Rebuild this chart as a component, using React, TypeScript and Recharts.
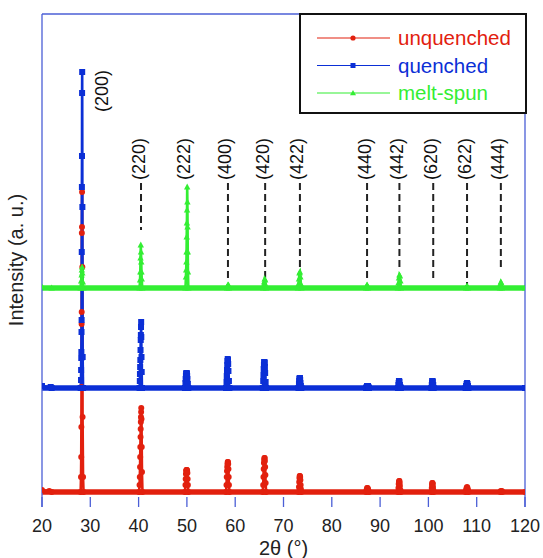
import React from 'react'
import { LineChart, Line, XAxis, YAxis, ReferenceLine, ReferenceDot } from "recharts";

// 2θ ticks
const TICKS = [20, 30, 40, 50, 60, 70, 80, 90, 100, 110, 120];

// reflections (hkl), their 2θ, and where the dashed guide stops (a.u.)
const HKL = ["(200)", "(220)", "(222)", "(400)", "(420)", "(422)", "(440)", "(442)", "(620)", "(622)", "(444)"];
const PEAK_POS = [28.3, 40.5, 50.0, 58.5, 66.2, 73.4, 87.3, 94.0, 101.0, 108.0, 115.0];
const DASH_END = [null, 277, null, 225, 228, 240, 225, 237, 227, 222, 237];
const DASH_TOP = 324;
const LABEL_Y = 327;

// stacked offsets of the three patterns (a.u.)
const BASELINES = [15, 119, 219];

// unquenched (red)
const unquenched: [number, number][] = [
  [20, 17], [21.5, 16], [22, 15], [28.0, 15], [28.08, 30], [28.12, 50], [28.15, 80], [28.18, 120],
  [28.2, 183], [28.22, 195], [28.25, 274], [28.28, 280], [28.3, 315], [28.35, 240], [28.4, 90],
  [28.5, 30], [28.6, 15],
  [40.1, 15], [40.2, 22], [40.25, 30], [40.3, 40], [40.33, 50], [40.36, 60], [40.4, 70], [40.43, 78],
  [40.46, 85], [40.49, 90], [40.52, 95], [40.55, 99], [40.6, 88], [40.65, 60], [40.7, 35], [40.8, 15],
  [49.6, 15], [49.7, 22], [49.75, 28], [49.8, 33], [49.85, 36], [49.9, 37], [49.95, 37], [50.0, 37],
  [50.05, 36], [50.1, 34], [50.15, 28], [50.2, 22], [50.3, 15],
  [58.1, 15], [58.2, 22], [58.25, 30], [58.3, 36], [58.35, 40], [58.4, 43], [58.45, 45], [58.5, 45],
  [58.55, 43], [58.6, 38], [58.65, 30], [58.7, 22], [58.8, 15],
  [65.7, 15], [65.8, 22], [65.85, 30], [65.9, 38], [65.95, 44], [66.0, 47], [66.05, 49], [66.1, 49],
  [66.15, 46], [66.2, 40], [66.25, 32], [66.3, 24], [66.4, 15],
  [73.1, 15], [73.2, 20], [73.25, 25], [73.3, 29], [73.35, 31], [73.4, 31], [73.45, 30], [73.5, 27],
  [73.55, 22], [73.6, 18], [73.7, 15],
  [87.1, 15], [87.2, 17], [87.3, 19], [87.4, 19], [87.5, 18], [87.6, 16], [87.7, 15],
  [93.7, 15], [93.8, 19], [93.85, 23], [93.9, 25], [93.95, 26], [94.0, 26], [94.05, 24], [94.1, 21],
  [94.2, 17], [94.3, 15],
  [100.6, 15], [100.7, 19], [100.75, 22], [100.8, 24], [100.85, 24], [100.9, 23], [100.95, 20],
  [101.0, 17], [101.1, 15],
  [107.7, 15], [107.8, 17], [107.9, 19], [108.0, 20], [108.1, 19], [108.2, 17], [108.3, 15],
  [114.9, 15], [115.0, 16], [115.2, 16], [115.3, 15], [120, 15],
];

// quenched (blue)
const quenched: [number, number][] = [
  [20, 121], [21.8, 120], [22, 119], [28.0, 119], [28.08, 127], [28.1, 137], [28.13, 149], [28.15, 155],
  [28.18, 175], [28.2, 187], [28.23, 255], [28.26, 320], [28.28, 351], [28.3, 414], [28.32, 435],
  [28.36, 300], [28.42, 150], [28.5, 119],
  [40.2, 119], [40.25, 126], [40.28, 133], [40.32, 140], [40.36, 147], [40.4, 157], [40.44, 167],
  [40.47, 172], [40.5, 180], [40.53, 185], [40.56, 170], [40.6, 150], [40.64, 135], [40.7, 119],
  [49.6, 119], [49.7, 124], [49.75, 128], [49.8, 131], [49.85, 133], [49.9, 134], [49.95, 134],
  [50.0, 133], [50.05, 131], [50.1, 128], [50.2, 123], [50.3, 119],
  [58.1, 119], [58.2, 125], [58.25, 131], [58.3, 137], [58.35, 142], [58.4, 146], [58.45, 148],
  [58.5, 147], [58.55, 143], [58.6, 136], [58.7, 126], [58.8, 119],
  [65.7, 119], [65.8, 126], [65.85, 132], [65.9, 138], [65.95, 142], [66.0, 145], [66.05, 145],
  [66.1, 144], [66.15, 140], [66.2, 134], [66.3, 125], [66.4, 119],
  [73.1, 119], [73.2, 123], [73.25, 126], [73.3, 128], [73.35, 129], [73.4, 129], [73.45, 127],
  [73.5, 124], [73.6, 121], [73.7, 119],
  [87.1, 119], [87.2, 120], [87.3, 121], [87.4, 121], [87.5, 121], [87.6, 120], [87.7, 119],
  [93.7, 119], [93.8, 122], [93.85, 124], [93.9, 126], [93.95, 126], [94.0, 125], [94.1, 122],
  [94.2, 120], [94.3, 119],
  [100.6, 119], [100.7, 122], [100.75, 124], [100.8, 126], [100.85, 126], [100.9, 125],
  [101.0, 122], [101.1, 119],
  [107.7, 119], [107.8, 121], [107.9, 123], [108.0, 124], [108.1, 123], [108.2, 121], [108.3, 119],
  [120, 119],
];

// melt-spun (green)
const meltSpun: [number, number][] = [
  [20, 220], [22, 219], [28.0, 219], [28.1, 226], [28.2, 232], [28.25, 237], [28.3, 240], [28.35, 234],
  [28.45, 225], [28.55, 219],
  [40.2, 219], [40.3, 227], [40.35, 235], [40.4, 249], [40.45, 262], [40.5, 255], [40.55, 245],
  [40.6, 235], [40.65, 228], [40.75, 219],
  [49.7, 219], [49.8, 230], [49.85, 237], [49.9, 245], [49.93, 255], [49.96, 270], [50.0, 284],
  [50.03, 297], [50.06, 320], [50.1, 305], [50.14, 280], [50.18, 255], [50.22, 235], [50.3, 219],
  [58.3, 219], [58.4, 221], [58.5, 222], [58.6, 222], [58.7, 219],
  [65.8, 219], [65.9, 222], [66.0, 225], [66.1, 228], [66.2, 227], [66.3, 222], [66.4, 219],
  [73.0, 219], [73.1, 223], [73.2, 228], [73.3, 234], [73.4, 235], [73.5, 230], [73.6, 223], [73.7, 219],
  [87.1, 219], [87.2, 221], [87.3, 222], [87.4, 221], [87.5, 219],
  [93.7, 219], [93.8, 224], [93.9, 229], [94.0, 232], [94.1, 231], [94.2, 226], [94.3, 219],
  [107.8, 219], [107.9, 220], [108.0, 221], [108.1, 220], [108.2, 219],
  [114.8, 219], [114.9, 223], [115.0, 225], [115.1, 224], [115.2, 219],
  [120, 219],
];

const RED = "#e2200e";
const BLUE = "#0b2fd6";
const GREEN = "#33ee33";
const FRAME = "#4b5fd6";
const FONT = '"Liberation Sans", Arial, sans-serif';

const toRows = (pts: [number, number][]) => pts.map(([x, y]) => ({ x, y }));
const baseRows = (b: number) => [{ x: 20, y: b }, { x: 120, y: b }];

const redDot = (p: any) => (
  <circle key={`r-${p.index}`} cx={p.cx} cy={p.cy} r={3} fill={RED} />
);
const blueDot = (p: any) => (
  <rect key={`b-${p.index}`} x={p.cx - 3} y={p.cy - 3} width={6} height={6} fill={BLUE} />
);
const greenDot = (p: any) => (
  <polygon
    key={`g-${p.index}`}
    points={`${p.cx},${p.cy - 3.5} ${p.cx - 3.2},${p.cy + 2.6} ${p.cx + 3.2},${p.cy + 2.6}`}
    fill={GREEN}
  />
);

const XTick = (props: any) => {
  const { x, y, payload } = props;
  return (
    <g>
      <line x1={x} x2={x} y1={y - 10} y2={y} stroke={FRAME} strokeWidth={1.3} />
      <text x={x} y={y + 24.5} textAnchor="middle" fontFamily={FONT} fontSize={18} fill="#222">
        {payload.value}
      </text>
    </g>
  );
};

const legendItems = [
  { name: "unquenched", color: RED, marker: "circle" },
  { name: "quenched", color: BLUE, marker: "square" },
  { name: "melt-spun", color: GREEN, marker: "triangle" },
];

const Legend = () => (
  <div
    style={{
      position: "absolute", left: 299, top: 13, width: 228, height: 101,
      boxSizing: "border-box", border: "2px solid #111", background: "#fff",
    }}
  >
    <svg width={224} height={97}>
      {legendItems.map((it, i) => {
        const cy = 23 + i * 27.5;
        return (
          <g key={it.name}>
            <line x1={16} x2={89} y1={cy} y2={cy} stroke={it.color} strokeWidth={1.2} />
            {it.marker === "circle" && <circle cx={52} cy={cy} r={2.6} fill={it.color} />}
            {it.marker === "square" && <rect x={49.5} y={cy - 2.5} width={5} height={5} fill={it.color} />}
            {it.marker === "triangle" && (
              <polygon points={`52,${cy - 3} 49,${cy + 2.2} 55,${cy + 2.2}`} fill={it.color} />
            )}
            <text x={97} y={cy + 7} fontFamily={FONT} fontSize={20.5} fill={it.color}>{it.name}</text>
          </g>
        );
      })}
    </svg>
  </div>
);

const PeakLabel = (text: string, first: boolean) => (props: any) => {
  const x = props.cx + (first ? 26 : 3.5);
  const y = first ? 112 : props.cy;
  return (
    <text
      x={x} y={y} transform={`rotate(-90 ${x} ${y})`}
      fontFamily={FONT} fontSize={18} fill="#111"
    >
      {text}
    </text>
  );
};

export default function App() {
  return (
    <div style={{ position: "relative", width: 543, height: 558, background: "#fff" }}>
      <style>{`body{margin:0}`}</style>
      <LineChart width={543} height={558} margin={{ top: 0, right: 0, bottom: 0, left: 0 }}>
        <XAxis
          dataKey="x" type="number" domain={[20, 120]} ticks={TICKS} allowDataOverflow
          height={51} axisLine={false} tickLine={false} tickSize={0} tickMargin={0}
          tick={<XTick />}
          label={{
            content: (p: any) => (
              <text
                x={p.viewBox.x + p.viewBox.width / 2} y={p.viewBox.y + 48} textAnchor="middle"
                fontFamily={FONT} fontSize={20} fill="#222"
              >
                2θ (°)
              </text>
            ),
          }}
        />
        <XAxis
          xAxisId="top" orientation="top" type="number" dataKey="x" domain={[20, 120]}
          height={14} tick={false} tickLine={false} axisLine={{ stroke: FRAME, strokeWidth: 1.3 }}
        />
        <YAxis
          type="number" domain={[0, 493]} width={42} tick={false} tickLine={false}
          axisLine={{ stroke: FRAME, strokeWidth: 1.3 }}
          label={{
            content: () => (
              <text
                x={23} y={260} transform="rotate(-90 23 260)" textAnchor="middle"
                fontFamily={FONT} fontSize={20} fill="#222"
              >
                Intensity (a. u.)
              </text>
            ),
          }}
        />
        <YAxis
          yAxisId="right" orientation="right" type="number" domain={[0, 493]} width={18}
          tick={false} tickLine={false} axisLine={{ stroke: FRAME, strokeWidth: 1.3 }}
        />

        {PEAK_POS.map((pos, i) =>
          DASH_END[i] == null ? null : (
            <ReferenceLine
              key={`d-${i}`}
              segment={[{ x: pos, y: DASH_TOP }, { x: pos, y: DASH_END[i] as number }]}
              stroke="#222" strokeWidth={2} strokeDasharray="7 4"
            />
          )
        )}

        <Line data={baseRows(BASELINES[0])} dataKey="y" stroke={RED} strokeWidth={5.5} dot={false} isAnimationActive={false} legendType="none" />
        <Line data={toRows(unquenched)} dataKey="y" stroke={RED} strokeWidth={2.6} dot={redDot} isAnimationActive={false} />
        <Line data={baseRows(BASELINES[1])} dataKey="y" stroke={BLUE} strokeWidth={5.5} dot={false} isAnimationActive={false} legendType="none" />
        <Line data={toRows(quenched)} dataKey="y" stroke={BLUE} strokeWidth={2.6} dot={blueDot} isAnimationActive={false} />
        <Line data={baseRows(BASELINES[2])} dataKey="y" stroke={GREEN} strokeWidth={5.5} dot={false} isAnimationActive={false} legendType="none" />
        <Line data={toRows(meltSpun)} dataKey="y" stroke={GREEN} strokeWidth={2.6} dot={greenDot} isAnimationActive={false} />

        {PEAK_POS.map((pos, i) => (
          <ReferenceDot
            key={`l-${i}`} x={pos} y={LABEL_Y} r={0}
            shape={PeakLabel(HKL[i], i === 0)}
          />
        ))}
      </LineChart>
      <Legend />
    </div>
  );
}
